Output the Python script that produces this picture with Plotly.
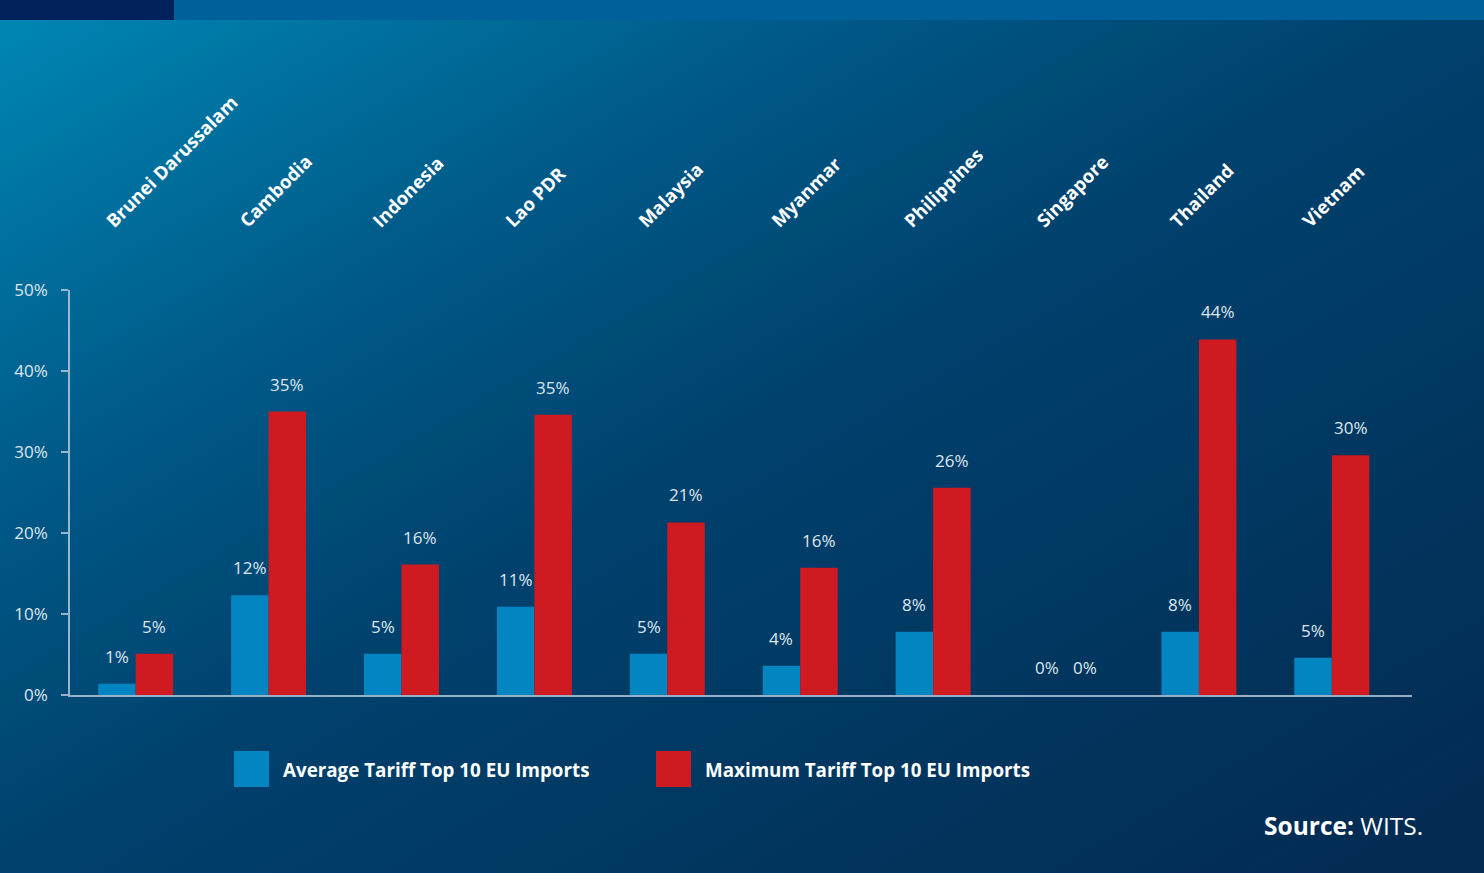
import base64
import plotly.graph_objects as go

# ---- data ----
countries = ["Brunei Darussalam", "Cambodia", "Indonesia", "Lao PDR", "Malaysia",
             "Myanmar", "Philippines", "Singapore", "Thailand", "Vietnam"]
avg_tariff = [1.4, 12.3, 5.1, 10.9, 5.1, 3.6, 7.8, 0.0, 7.8, 4.6]
max_tariff = [5.1, 35.0, 16.1, 34.6, 21.3, 15.7, 25.6, 0.0, 43.9, 29.6]
y_ticks = [0, 10, 20, 30, 40, 50]
y_tick_text = ["0%", "10%", "20%", "30%", "40%", "50%"]
series_names = ["Average Tariff Top 10 EU Imports", "Maximum Tariff Top 10 EU Imports"]
source_note = "<b>Source:</b> WITS."

# ---- styling ----
W, H = 1484, 873
ML, MR, MT, MB = 70, 72, 290, 178
PLOT_W, PLOT_H = W - ML - MR, H - MT - MB
BLUE = "#0285c0"
RED = "#ce1a20"
AXIS = "rgba(200,215,230,0.75)"
LABEL = "#dfe7ef"
BAR_PX = 37.5


def px_x(px):
    return (px - ML) / PLOT_W


def px_y(py):
    return (H - MB - py) / PLOT_H


# gradient backdrop with the header strip
svg = f"""<svg xmlns='http://www.w3.org/2000/svg' width='{W}' height='{H}' viewBox='0 0 {W} {H}'>
<defs><linearGradient id='g' x1='0' y1='0' x2='1' y2='1'>
<stop offset='0' stop-color='#0088b6'/>
<stop offset='0.28' stop-color='#005a88'/>
<stop offset='0.5' stop-color='#00416d'/>
<stop offset='1' stop-color='#032a50'/>
</linearGradient></defs>
<rect x='0' y='0' width='{W}' height='{H}' fill='url(#g)'/>
<rect x='0' y='0' width='{W}' height='20' fill='#00609a'/>
<rect x='0' y='0' width='174' height='20' fill='#00215c'/>
</svg>"""
bg_uri = "data:image/svg+xml;base64," + base64.b64encode(svg.encode()).decode()

fig = go.Figure()
fig.add_trace(go.Bar(x=countries, y=avg_tariff, name=series_names[0],
                     marker=dict(color=BLUE, line=dict(width=0))))
fig.add_trace(go.Bar(x=countries, y=max_tariff, name=series_names[1],
                     marker=dict(color=RED, line=dict(width=0))))

annotations = []
# value labels above each bar
for vals, dx in ((avg_tariff, -BAR_PX / 2), (max_tariff, BAR_PX / 2)):
    for c, v in zip(countries, vals):
        annotations.append(dict(
            x=c, y=v, xref="x", yref="y", text=f"{v:.0f}%", showarrow=False,
            xshift=dx, yshift=14, yanchor="bottom", xanchor="center",
            font=dict(family="Open Sans", size=17, color=LABEL)))

# rotated country names above the plot
for c in countries:
    annotations.append(dict(
        x=c, y=1, xref="x", yref="paper", text=f"<b>{c}</b>", showarrow=False,
        textangle=-45, xanchor="left", yanchor="bottom", xshift=-38, yshift=55,
        font=dict(family="Open Sans", size=18.5, color="white")))

# legend
shapes = []
legend_items = [(series_names[0], BLUE, 234), (series_names[1], RED, 656)]
for name, col, x0 in legend_items:
    shapes.append(dict(type="rect", xref="paper", yref="paper",
                       x0=px_x(x0), x1=px_x(x0 + 35), y0=px_y(787), y1=px_y(751),
                       fillcolor=col, line=dict(width=0)))
    annotations.append(dict(
        x=px_x(x0 + 47), y=px_y(770), xref="paper", yref="paper",
        text=f"<b>{name}</b>", showarrow=False, xanchor="left", yanchor="middle",
        font=dict(family="Open Sans", size=18.8, color="white")))

annotations.append(dict(
    x=px_x(1425), y=px_y(825), xref="paper", yref="paper", text=source_note,
    showarrow=False, xanchor="right", yanchor="middle",
    font=dict(family="Open Sans", size=24.5, color="white")))

fig.update_layout(
    width=W, height=H,
    margin=dict(l=ML, r=MR, t=MT, b=MB, pad=0),
    paper_bgcolor="#00416d", plot_bgcolor="rgba(0,0,0,0)",
    barmode="group", bargap=0.436, bargroupgap=0,
    showlegend=False,
    annotations=annotations,
    shapes=shapes,
    images=[dict(source=bg_uri, xref="paper", yref="paper",
                 x=px_x(0), y=px_y(0), sizex=W / PLOT_W, sizey=H / PLOT_H,
                 xanchor="left", yanchor="top", sizing="stretch", layer="below")],
    xaxis=dict(type="category", range=[-0.494, 9.603], showticklabels=False,
               showgrid=False, zeroline=False, showline=True, linecolor=AXIS,
               linewidth=1.5, ticks=""),
    yaxis=dict(range=[0, 50], tickmode="array", tickvals=y_ticks, ticktext=y_tick_text,
               showgrid=False, zeroline=False, showline=True, linecolor=AXIS,
               linewidth=1.5, ticks="outside", ticklen=7, tickcolor=AXIS, tickwidth=1.5,
               ticklabelstandoff=10,
               tickfont=dict(family="Open Sans", size=17, color=LABEL)),
)

fig.write_html("out.html")
